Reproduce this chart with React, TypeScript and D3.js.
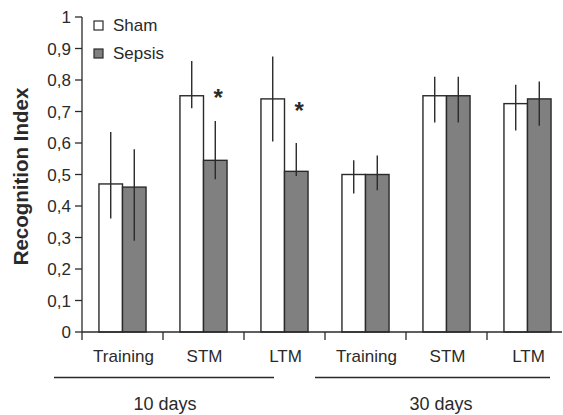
import React from 'react';
import * as d3 from 'd3';

const categories = ['Training', 'STM', 'LTM', 'Training', 'STM', 'LTM'];
const keys = ['t10', 's10', 'l10', 't30', 's30', 'l30'];
const groups = ['Sham', 'Sepsis'];
const shamMean = [0.47, 0.75, 0.74, 0.5, 0.75, 0.725];
const shamHi = [0.635, 0.86, 0.875, 0.545, 0.81, 0.785];
const shamLo = [0.36, 0.71, 0.605, 0.44, 0.665, 0.64];
const sepsisMean = [0.46, 0.545, 0.51, 0.5, 0.75, 0.74];
const sepsisHi = [0.58, 0.67, 0.6, 0.56, 0.81, 0.795];
const sepsisLo = [0.29, 0.485, 0.495, 0.45, 0.665, 0.655];
const yTicks = [0, 0.1, 0.2, 0.3, 0.4, 0.5, 0.6, 0.7, 0.8, 0.9, 1];
const starKeys = ['s10', 'l10'];
const starValues = [0.755, 0.715];
const periods = ['10 days', '30 days'];

const ink = '#2a2a2a';
const font = 'Liberation Sans, Arial, sans-serif';

export default function App() {
  const x0 = d3.scaleBand().domain(keys).range([82, 568]);
  const x1 = d3.scaleBand().domain(groups).range([0, x0.bandwidth()]).paddingOuter(0.72);
  const y = d3.scaleLinear().domain([0, 1]).range([332, 17]);
  const fmt = (v: number) => (v === 0 || v === 1 ? String(v) : d3.format('.1f')(v).replace('.', ','));

  const series = [
    { name: 'Sham', fill: '#ffffff', mean: shamMean, hi: shamHi, lo: shamLo },
    { name: 'Sepsis', fill: '#808080', mean: sepsisMean, hi: sepsisHi, lo: sepsisLo },
  ];

  // period brackets under the axis
  const periodSpans = [
    { label: periods[0], x1: 54, x2: 274, cx: 165 },
    { label: periods[1], x1: 315, x2: 550, cx: 441 },
  ];

  return (
    <svg width={563} height={415} style={{ position: 'absolute', left: 0, top: 0, background: '#fff' }}>
      {/* y axis */}
      <line x1={82} x2={82} y1={y(1)} y2={y(0)} stroke={ink} strokeWidth={1.3} />
      {yTicks.map(t => (
        <g key={t}>
          <line x1={75} x2={82} y1={y(t)} y2={y(t)} stroke={ink} strokeWidth={1.3} />
          <text x={71} y={y(t)} dy="0.36em" textAnchor="end" fontSize={17} fontFamily={font} fill={ink}>
            {fmt(t)}
          </text>
        </g>
      ))}
      <text
        transform={`translate(28,${(y(0) + y(1)) / 2 + 2}) rotate(-90)`}
        textAnchor="middle"
        fontSize={20.5}
        fontWeight="bold"
        fontFamily={font}
        fill={ink}
      >
        Recognition Index
      </text>

      {/* bars */}
      {keys.map((k, i) => (
        <g key={k} transform={`translate(${x0(k)},0)`}>
          {series.map(s => {
            const bx = x1(s.name) as number;
            const cx = bx + x1.bandwidth() / 2;
            return (
              <g key={s.name}>
                <rect
                  x={bx}
                  y={y(s.mean[i])}
                  width={x1.bandwidth()}
                  height={y(0) - y(s.mean[i])}
                  fill={s.fill}
                  stroke={ink}
                  strokeWidth={1.4}
                />
                <line x1={cx} x2={cx} y1={y(s.hi[i])} y2={y(s.lo[i])} stroke={ink} strokeWidth={1.4} />
              </g>
            );
          })}
        </g>
      ))}

      {/* x axis */}
      <line x1={82} x2={562} y1={y(0)} y2={y(0)} stroke={ink} strokeWidth={1.3} />
      {keys.map((k, i) => (
        <g key={k}>
          <line x1={x0(k)} x2={x0(k)} y1={y(0)} y2={y(0) + 8} stroke={ink} strokeWidth={1.3} />
          <text
            x={(x0(k) as number) + x0.bandwidth() / 2 + 1}
            y={362}
            textAnchor="middle"
            fontSize={17}
            fontFamily={font}
            fill={ink}
          >
            {categories[i]}
          </text>
        </g>
      ))}

      {periodSpans.map(p => (
        <g key={p.label}>
          <line x1={p.x1} x2={p.x2} y1={377.5} y2={377.5} stroke={ink} strokeWidth={1.3} />
          <text x={p.cx} y={410} textAnchor="middle" fontSize={18} fontFamily={font} fill={ink}>
            {p.label}
          </text>
        </g>
      ))}

      {/* significance stars */}
      {starKeys.map((k, i) => (
        <text
          key={k}
          x={(x0(k) as number) + (x1('Sepsis') as number) + x1.bandwidth() / 2 + 3}
          y={y(starValues[i]) + 12}
          textAnchor="middle"
          fontSize={24}
          fontWeight="bold"
          fontFamily={font}
          fill={ink}
        >
          *
        </text>
      ))}

      {/* legend */}
      {series.map((s, i) => (
        <g key={s.name} transform={`translate(94,${21 + i * 28})`}>
          <rect x={0} y={0} width={9} height={9} fill={s.fill} stroke={ink} strokeWidth={1.2} />
          <text x={19} y={10} fontSize={17} fontFamily={font} fill={ink}>
            {s.name}
          </text>
        </g>
      ))}
    </svg>
  );
}
